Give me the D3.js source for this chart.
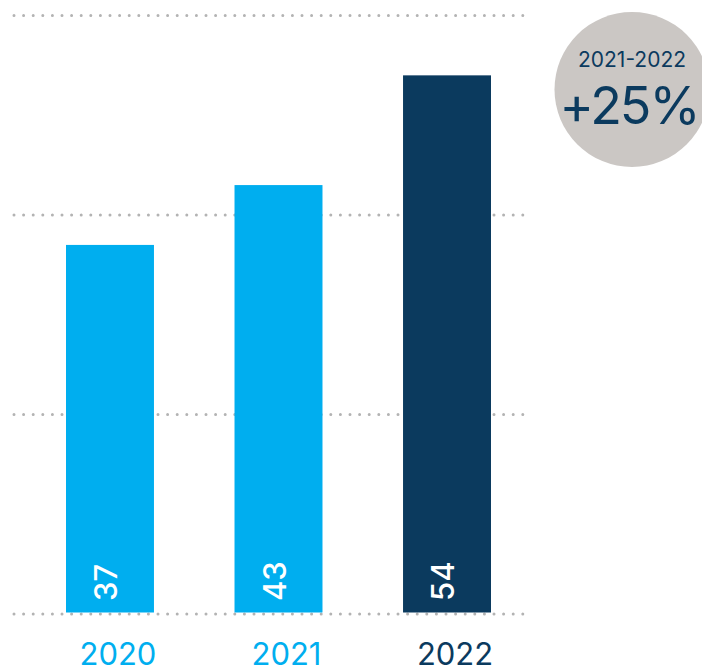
<!DOCTYPE html>
<html>
<head>
<meta charset="utf-8">
<script src="https://cdn.jsdelivr.net/npm/d3@7"></script>
<style>
    html, body { margin: 0; padding: 0; background: #fff; }
    svg { display: block; font-family: Inter, "Liberation Sans", sans-serif; }
</style>
</head>
<body>
<div id="chart"></div>
<script>
const years = ['2020', '2021', '2022'];
const values = [37, 43, 54];
const barColors = ['#00aeef', '#00aeef', '#0b3a5e'];
const gridTicks = [0, 20, 40, 60];
const badgePeriod = '2021-2022';
const badgeChange = '+25%';

const width = 702;
const height = 671;

const svg = d3.select('#chart')
    .append('svg')
    .attr('width', width)
    .attr('height', height);

const x = d3.scaleBand()
    .domain(years)
    .range([66, 491])
    .paddingInner(0.478)
    .paddingOuter(0);

const y = d3.scaleLinear()
    .domain([0, 60])
    .range([614, 15.5]);

// Dotted gridlines
svg.append('g')
    .selectAll('line')
    .data(gridTicks)
    .enter()
    .append('line')
    .attr('x1', 14)
    .attr('x2', 532)
    .attr('y1', d => y(d))
    .attr('y2', d => y(d))
    .attr('stroke', '#b3b3b3')
    .attr('stroke-width', 3)
    .attr('stroke-linecap', 'round')
    .attr('stroke-dasharray', '0,9.6');

// Bars
const data = years.map((yr, i) => ({year: yr, value: values[i], color: barColors[i]}));

svg.selectAll('.bar')
    .data(data)
    .enter()
    .append('rect')
    .attr('class', 'bar')
    .attr('x', d => x(d.year))
    .attr('y', d => y(d.value))
    .attr('width', x.bandwidth())
    .attr('height', d => y(0) - 1.5 - y(d.value))
    .attr('fill', d => d.color);

// Values inside bars, rotated
svg.selectAll('.value')
    .data(data)
    .enter()
    .append('text')
    .attr('class', 'value')
    .attr('transform', d => `translate(${x(d.year) + x.bandwidth() / 2 + 7},${y(0) - 13}) rotate(-90)`)
    .attr('fill', '#fff')
    .style('font-size', '31px')
    .style('font-weight', 500)
    .text(d => d.value);

// Year labels
svg.selectAll('.year')
    .data(data)
    .enter()
    .append('text')
    .attr('class', 'year')
    .attr('x', d => x(d.year) + x.bandwidth() / 2 + 8)
    .attr('y', 665)
    .attr('text-anchor', 'middle')
    .attr('fill', d => d.color)
    .style('font-size', '31px')
    .text(d => d.year);

// Change badge
const badge = svg.append('g')
    .attr('transform', 'translate(632,89.5)');

badge.append('circle')
    .attr('r', 77.5)
    .attr('fill', '#cbc7c4');

badge.append('text')
    .attr('y', -23)
    .attr('text-anchor', 'middle')
    .attr('fill', '#0b3a5e')
    .style('font-size', '21px')
    .text(badgePeriod);

badge.append('text')
    .attr('x', -3)
    .attr('y', 34)
    .attr('text-anchor', 'middle')
    .attr('fill', '#0b3a5e')
    .style('font-size', '52px')
    .style('letter-spacing', '-2px')
    .text(badgeChange);
</script>
</body>
</html>
